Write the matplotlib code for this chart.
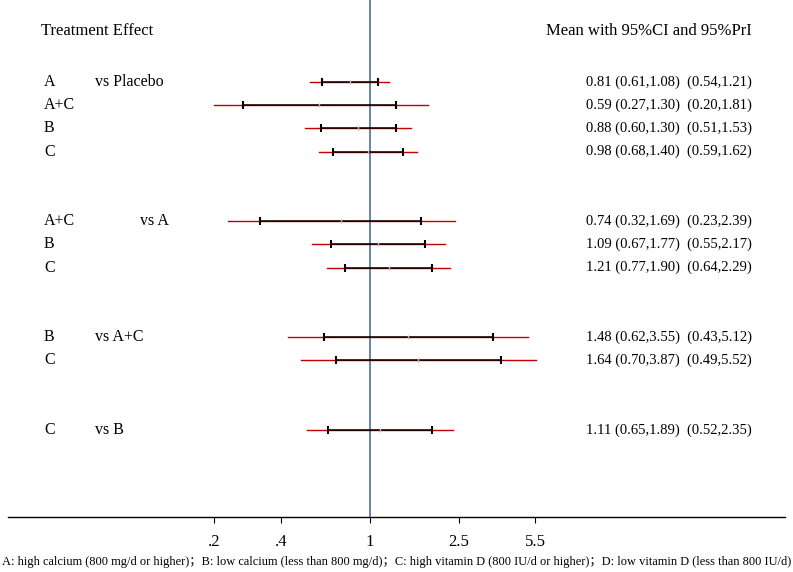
import matplotlib.pyplot as plt
import matplotlib.transforms as mtransforms

# 数据: 每一行 (治疗, 对照组, 均值, CI下, CI上, PrI下, PrI上)
treatments = ['A', 'A+C', 'B', 'C', 'A+C', 'B', 'C', 'B', 'C', 'C']
comparators = ['vs Placebo', '', '', '', 'vs A', '', '', 'vs A+C', '', 'vs B']
rows = [0, 1, 2, 3, 6, 7, 8, 11, 12, 15]
means = [0.81, 0.59, 0.88, 0.98, 0.74, 1.09, 1.21, 1.48, 1.64, 1.11]
ci_low = [0.61, 0.27, 0.60, 0.68, 0.32, 0.67, 0.77, 0.62, 0.70, 0.65]
ci_high = [1.08, 1.30, 1.30, 1.40, 1.69, 1.77, 1.90, 3.55, 3.87, 1.89]
pri_low = [0.54, 0.20, 0.51, 0.59, 0.23, 0.55, 0.64, 0.43, 0.49, 0.52]
pri_high = [1.21, 1.81, 1.53, 1.62, 2.39, 2.17, 2.29, 5.12, 5.52, 2.35]
xticks = [0.2, 0.4, 1, 2.5, 5.5]
xticklabels = ['.2', '.4', '1', '2.5', '5.5']

plt.rcParams['font.family'] = ['Liberation Serif', 'Noto Sans CJK SC']

fig = plt.figure(figsize=(7.93, 5.72), dpi=100)
ax = fig.add_axes([8 / 793, 1 - 517 / 572, 777 / 793, 517 / 572])
ax.set_xscale('log')
ax.set_xlim(0.0239, 72.1)
ax.set_ylim(18.75, -3.53)

ax.axvline(1, color='#4a6ea8', lw=1.2, zorder=1)

for r, m, cl, ch, pl, ph in zip(rows, means, ci_low, ci_high, pri_low, pri_high):
    ax.plot([pl, ph], [r, r], color='#c00000', lw=1, zorder=2)
    ax.plot([cl, ch], [r, r], color='black', lw=1.1, zorder=3)
    ax.plot([cl, ch], [r, r], ls='none', marker='|', ms=6, mew=1.5, color='black', zorder=4)
    ax.plot([m], [r], ls='none', marker='|', ms=3, mew=1, color='#bbbbbb', zorder=4)

trans = mtransforms.blended_transform_factory(fig.transFigure, ax.transData)
ax.text(41 / 793, -2.2, 'Treatment Effect', transform=trans, fontsize=12, va='center')
ax.text(546 / 793, -2.2, 'Mean with 95%CI and 95%PrI', transform=trans, fontsize=12, va='center')
for i, r in enumerate(rows):
    ax.text(44 / 793, r, treatments[i], transform=trans, fontsize=11.5, va='center')
    if comparators[i]:
        cx = 140 if comparators[i] == 'vs A' else 95
        ax.text(cx / 793, r, comparators[i], transform=trans, fontsize=11.5, va='center')
    s = '%.2f (%.2f,%.2f)  (%.2f,%.2f)' % (means[i], ci_low[i], ci_high[i], pri_low[i], pri_high[i])
    ax.text(586 / 793, r, s, transform=trans, fontsize=10.5, va='center')

for sp in ['left', 'right', 'top']:
    ax.spines[sp].set_visible(False)
ax.spines['bottom'].set_linewidth(1)
ax.set_yticks([])
ax.set_xticks(xticks)
ax.set_xticklabels(xticklabels, fontsize=12)
ax.xaxis.set_minor_locator(plt.NullLocator())
ax.tick_params(axis='x', length=4, pad=8)

fig.text(2 / 793, 1 - 562 / 572,
         'A: high calcium (800 mg/d or higher)；B: low calcium (less than 800 mg/d)；'
         'C: high vitamin D (800 IU/d or higher)；D: low vitamin D (less than 800 IU/d)',
         fontsize=8.9, va='center')

fig.savefig('out.png', dpi=100)
